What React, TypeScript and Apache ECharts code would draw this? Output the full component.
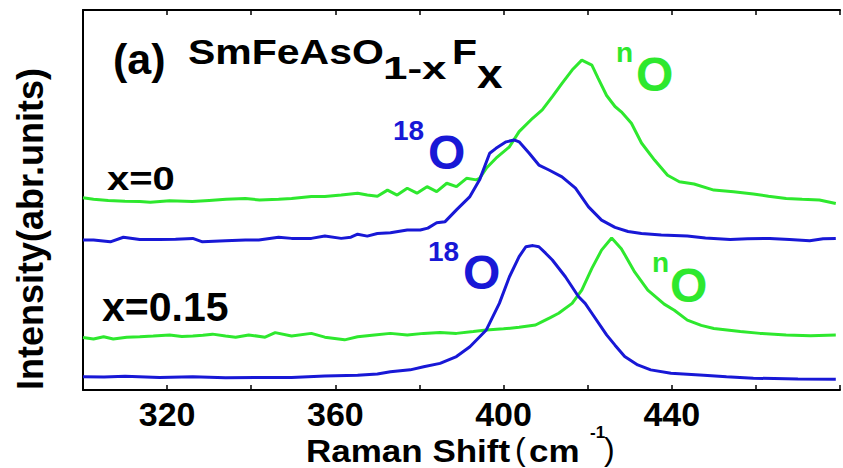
import React, { useEffect, useRef } from "react";
import * as echarts from "echarts";

// Raman shift (cm^-1) and intensity (arb. units)
const xGreen0 = [300, 302.5, 306, 310, 313.5, 316, 320.6, 326, 330, 334, 338.6, 342, 346.5, 349.6, 354.3, 357.5, 361.4, 365.3, 367.6, 370, 372.4, 374.7, 377.1, 379.4, 381.8, 384.1, 386.5, 388.8, 391.2, 393.5, 394.3, 396, 398.2, 401.4, 403.7, 406.9, 409.2, 411.6, 413.9, 416.3, 418.6, 421, 422.5, 424.5, 426.5, 428, 430.4, 432.8, 435.9, 439, 441.8, 445.3, 450, 454.7, 459.4, 463, 467.2, 471, 475.1, 479];
const yGreen0 = [50.6, 50.2, 49.9, 49.7, 49.6, 49.4, 49.8, 49.6, 49.9, 50.2, 50.4, 50.0, 50.2, 50.4, 50.9, 50.9, 51.3, 51.8, 51.3, 51.0, 52.6, 51.3, 53.1, 51.8, 53.5, 52.2, 54.4, 53.5, 55.7, 55.3, 55.7, 58.5, 61.0, 64.0, 68.0, 71.5, 73.7, 77.2, 80.7, 84.2, 86.8, 85.5, 82.0, 77.5, 74.6, 73.2, 70.2, 65.0, 60.5, 56.5, 54.8, 54.2, 52.6, 52.2, 51.6, 51.0, 50.4, 50.2, 50.0, 49.1];

const xBlue0 = [300, 302.5, 306.5, 309.6, 313.5, 318.2, 322, 326.1, 328.4, 333.9, 338.6, 341.8, 346.5, 349.6, 354.3, 357.5, 361.4, 363.7, 365.3, 367.6, 370, 373.1, 377.1, 380.2, 382, 384.1, 386.1, 388.8, 392, 394.3, 396.7, 398.2, 400.6, 402.5, 403.7, 406.1, 408.4, 410.8, 413.9, 417.1, 420.2, 423.3, 426.5, 429.6, 432.8, 437.5, 443.7, 448, 453.9, 458, 463.3, 468, 472.8, 476, 479];
const yBlue0 = [39.5, 39.5, 39.0, 40.2, 39.6, 39.6, 39.7, 39.9, 39.0, 39.3, 39.5, 39.5, 40.2, 39.9, 39.9, 40.5, 39.9, 40.2, 41.0, 40.5, 41.2, 41.4, 42.1, 42.1, 42.6, 44.0, 44.3, 47.4, 50.9, 55.3, 62.3, 63.6, 65.3, 65.8, 65.3, 62.3, 59.2, 57.9, 56.1, 53.1, 48.2, 44.7, 42.8, 41.7, 41.2, 40.8, 40.5, 40.0, 39.6, 39.8, 39.9, 39.6, 39.3, 39.8, 39.9];

const xGreen15 = [300, 302.5, 304.9, 307.2, 310.4, 313.5, 316.7, 320.6, 323.5, 326.1, 328.5, 330.8, 333.9, 336.3, 339.4, 343.3, 345.7, 349.6, 354.3, 357.5, 362.2, 365.3, 369.3, 373.1, 377.1, 381, 384.9, 388.8, 392.8, 395.9, 400, 403.7, 407.6, 409.2, 411, 413.1, 416.3, 418.6, 421, 423.3, 425.7, 428, 431.2, 434.3, 438.2, 440.6, 443.7, 447, 450, 456.3, 461, 467.2, 473, 479];
const yGreen15 = [13.8, 13.4, 14.0, 13.4, 13.9, 14.0, 14.2, 14.5, 14.1, 14.2, 14.4, 14.7, 14.2, 13.9, 14.5, 13.9, 15.1, 14.2, 14.9, 13.9, 13.2, 14.0, 14.5, 14.9, 14.5, 14.9, 15.1, 14.9, 15.4, 15.8, 16.1, 16.5, 17.1, 18.0, 19.0, 20.2, 22.8, 26.3, 32.0, 36.8, 40.0, 37.2, 31.0, 26.3, 22.6, 21.0, 18.4, 17.0, 16.2, 15.4, 14.9, 14.5, 14.3, 14.5];

const xBlue15 = [300, 305, 310, 318.2, 326.1, 333.9, 341, 349.6, 357.5, 365.3, 370, 373.1, 377.8, 381, 384.9, 388.8, 392, 395.9, 399, 401.4, 403.7, 405.3, 407, 408.4, 410, 411.6, 414.7, 417.8, 419.4, 421, 424.5, 426.5, 428.8, 431.9, 435, 439.8, 447.6, 453, 459.4, 470, 479];
const yBlue15 = [3.5, 3.4, 3.6, 3.3, 3.5, 3.2, 3.3, 3.3, 3.7, 3.9, 4.2, 4.8, 5.3, 6.1, 7.0, 8.8, 11.4, 15.8, 22.8, 29.8, 35.1, 37.7, 38.0, 37.7, 36.0, 34.2, 29.8, 24.6, 22.8, 20.2, 14.5, 11.8, 8.8, 6.6, 5.3, 4.4, 3.9, 3.5, 3.1, 2.9, 2.8];

const xTickLabels = [320, 360, 400, 440];

const BLUE = "#1818d6";
const GREEN = "#2ee82e";
const FONT = '"Liberation Sans", Arial, sans-serif';

const pairs = (xs: number[], ys: number[]) => xs.map((v, i) => [v, ys[i]]);

function txt(
  text: string,
  x: number,
  y: number,
  size: number,
  color: string,
  o: { sx?: number; sy?: number; rot?: number; align?: string; weight?: string } = {}
) {
  const align = o.align ?? "left";
  return {
    type: "text",
    x,
    y,
    scaleX: o.sx ?? 1,
    scaleY: o.sy ?? 1,
    rotation: o.rot ?? 0,
    z: 100,
    style: {
      text,
      fill: color,
      font: `${o.weight ?? "bold"} ${size}px ${FONT}`,
      textAlign: align,
      textVerticalAlign: "middle",
      align,
      verticalAlign: "middle",
    },
  };
}

export default function App() {
  const ref = useRef<HTMLDivElement>(null);
  useEffect(() => {
    if (!ref.current) return;
    const chart = echarts.init(ref.current, undefined, { renderer: "svg" });
    const axisCommon = {
      type: "value",
      min: 300,
      max: 480,
      interval: 20,
      splitLine: { show: false },
      axisLine: { show: true, lineStyle: { color: "#000", width: 2 } },
      axisTick: { show: true, inside: true, length: 5, lineStyle: { color: "#000", width: 1.5 } },
    };
    const line = (data: number[][], color: string) => ({
      type: "line",
      data,
      showSymbol: false,
      symbol: "none",
      lineStyle: { color, width: 3 },
      itemStyle: { color },
      silent: true,
    });
    chart.setOption({
      animation: false,
      backgroundColor: "#fff",
      grid: { left: 83, top: 10, right: -5, bottom: 78 },
      xAxis: [
        {
          ...axisCommon,
          position: "bottom",
          axisLabel: {
            show: true,
            margin: 7,
            color: "#000",
            fontFamily: FONT,
            fontWeight: "bold",
            fontSize: 34,
            formatter: (v: number) => (xTickLabels.includes(v) ? String(v) : ""),
          },
        },
        {
          ...axisCommon,
          position: "top",
          axisLabel: { show: false },
        },
      ],
      yAxis: {
        type: "value",
        min: 0,
        max: 100,
        splitLine: { show: false },
        axisTick: { show: false },
        axisLabel: { show: false },
        axisLine: { show: true, lineStyle: { color: "#000", width: 2 } },
      },
      series: [
        line(pairs(xGreen0, yGreen0), GREEN),
        line(pairs(xBlue0, yBlue0), BLUE),
        line(pairs(xGreen15, yGreen15), GREEN),
        line(pairs(xBlue15, yBlue15), BLUE),
      ],
      graphic: [
        // title
        txt("(a)", 113, 59, 43, "#000"),
        txt("SmFeAsO", 188, 52, 41, "#000", { sy: 0.85 }),
        txt("1-x", 383, 68, 44, "#000", { sy: 0.72 }),
        txt("F", 452, 52, 41, "#000", { sy: 0.85 }),
        txt("x", 477, 74, 46, "#000", { sy: 0.88 }),
        // sample labels
        txt("x=0", 107, 178, 40, "#000", { sy: 0.85 }),
        txt("x=0.15", 102, 307, 41, "#000"),
        // peak labels
        txt("18", 393, 130, 28, BLUE),
        txt("O", 428, 152, 48, BLUE),
        txt("n", 616, 52, 28, GREEN),
        txt("O", 636, 74, 48, GREEN),
        txt("18", 428, 251, 28, BLUE),
        txt("O", 463, 272, 48, BLUE),
        txt("n", 652, 262, 28, GREEN),
        txt("O", 670, 285, 48, GREEN),
        // axis titles
        txt("Intensity(abr.units)", 30, 229, 36, "#000", { rot: Math.PI / 2, align: "center" }),
        txt("Raman Shift", 306, 451, 35, "#000", { sy: 0.88 }),
        txt("(", 515, 449, 32, "#000", { weight: "normal" }),
        txt("cm", 529, 451, 35, "#000", { sy: 0.88 }),
        txt("-1", 590, 432, 17, "#000"),
        txt(")", 604, 449, 32, "#000", { weight: "normal" }),
      ],
    });
    return () => chart.dispose();
  }, []);
  return (
    <div
      ref={ref}
      style={{ position: "fixed", left: 0, top: 0, width: 843, height: 468, background: "#fff" }}
    />
  );
}
